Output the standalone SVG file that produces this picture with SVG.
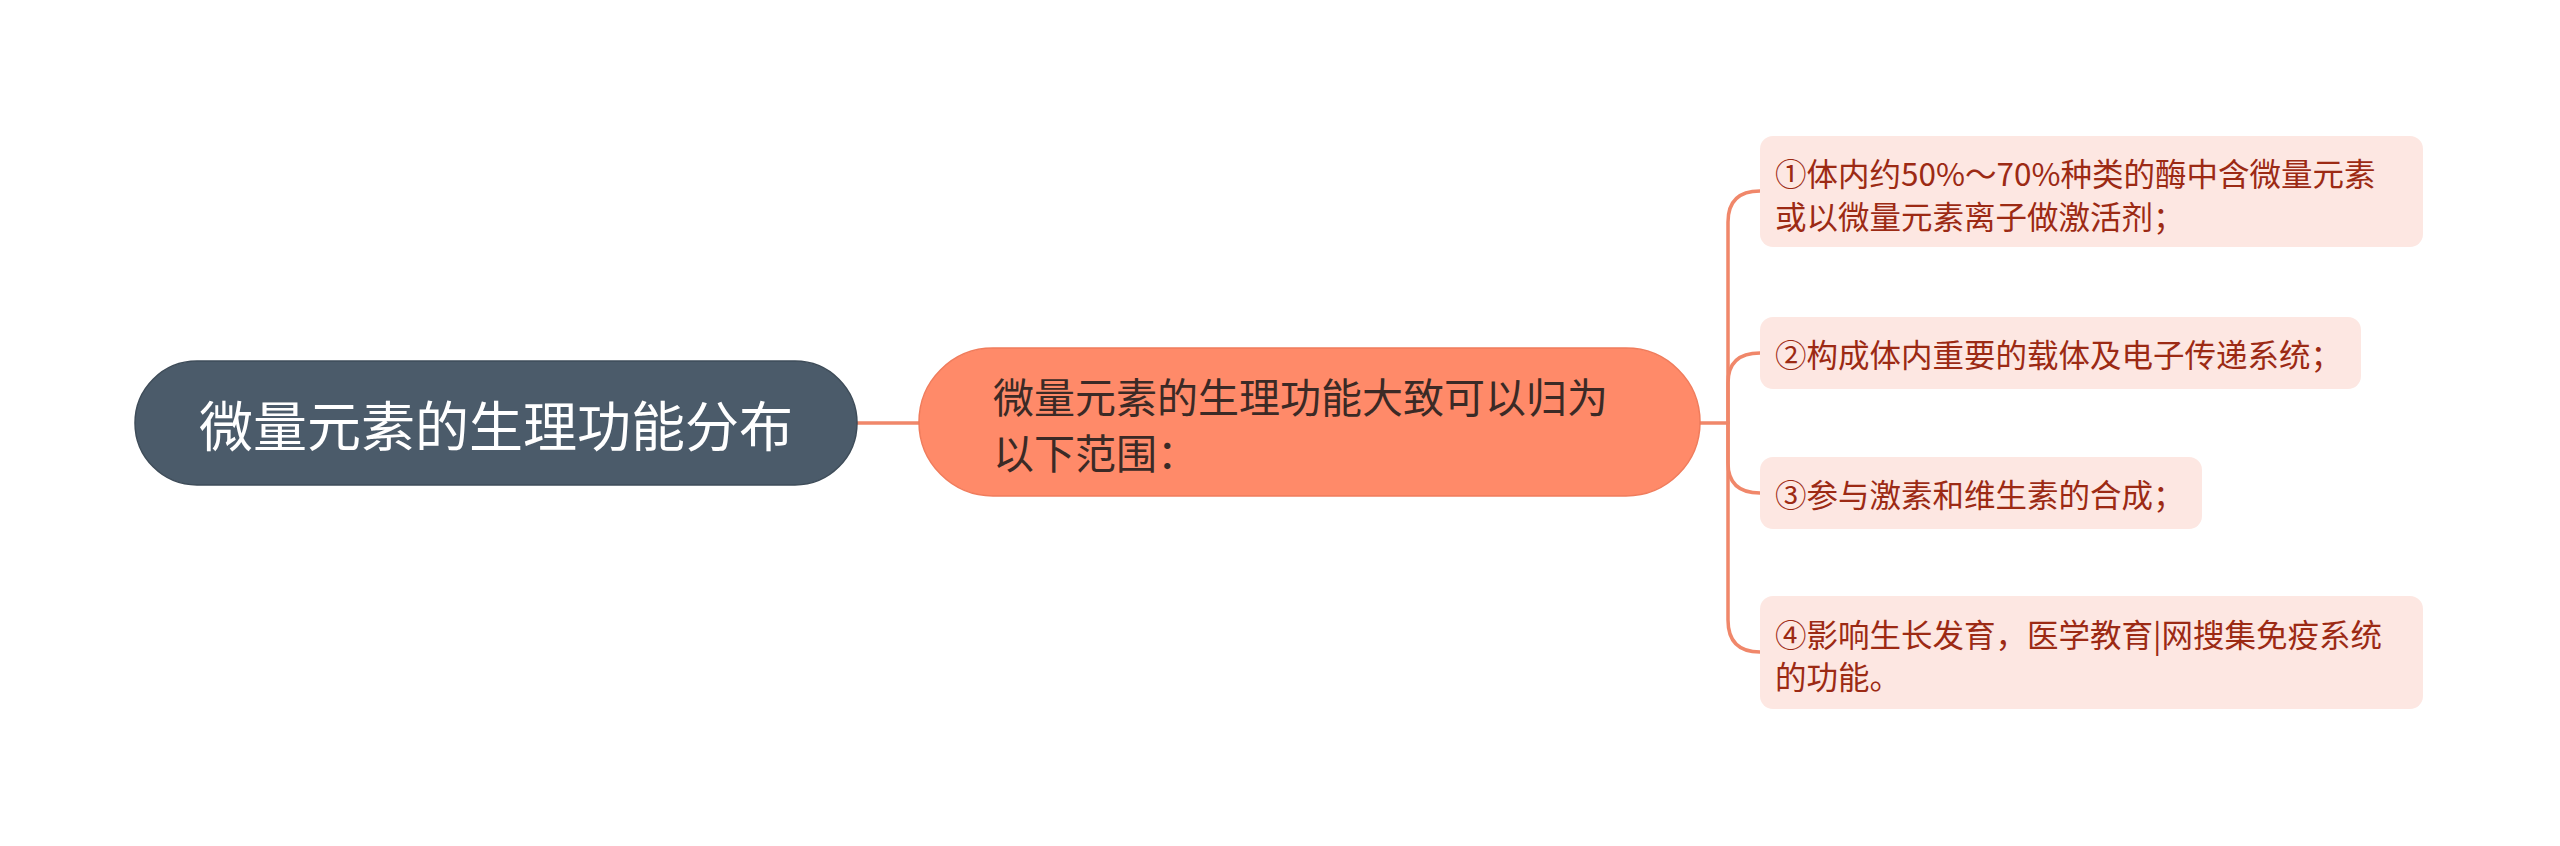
<svg xmlns="http://www.w3.org/2000/svg" width="2560" height="846" viewBox="0 0 2560 846">
<style>
text{font-family:"Noto Sans CJK SC","Noto Sans",sans-serif;dominant-baseline:central}
.root{fill:#4b5b6a;stroke:#3e4c59;stroke-width:1.5}
.main{fill:#ff8a69;stroke:#f07c5c;stroke-width:1.5}
.leaf{fill:#fde7e2}
.rt{fill:#ffffff;font-size:54px}
.mt{fill:#3b2a26;font-size:41px}
.lt{fill:#9c2a14;font-size:31.5px}
.conn{fill:none;stroke:#f0876a;stroke-width:3.5;stroke-linecap:round}
</style>
<rect width="2560" height="846" fill="#ffffff"/>
<g id="connectors">
<path class="conn" d="M857 423 H919"/>
<path class="conn" d="M1700 423 H1728"/>
<path class="conn" d="M1728 423 V222 Q1728 191 1760 191"/>
<path class="conn" d="M1728 423 V383 Q1728 353 1760 353"/>
<path class="conn" d="M1728 423 V463 Q1728 493 1760 493"/>
<path class="conn" d="M1728 423 V620 Q1728 652 1760 652"/>
</g>
<g id="root">
<rect class="root" x="135" y="361" width="722" height="124" rx="62"/>
<text class="rt" x="496" y="423" text-anchor="middle">微量元素的生理功能分布</text>
</g>
<g id="main">
<rect class="main" x="919" y="348" width="781" height="148" rx="74"/>
<text class="mt" x="993" y="395">微量元素的生理功能大致可以归为</text>
<text class="mt" x="993" y="451">以下范围：</text>
</g>
<g id="leaf1">
<rect class="leaf" x="1760" y="136" width="663" height="111" rx="13"/>
<text class="lt" x="1775" y="172">①体内约50%～70%种类的酶中含微量元素</text>
<text class="lt" x="1775" y="215">或以微量元素离子做激活剂；</text>
</g>
<g id="leaf2">
<rect class="leaf" x="1760" y="317" width="601" height="72" rx="13"/>
<text class="lt" x="1775" y="353">②构成体内重要的载体及电子传递系统；</text>
</g>
<g id="leaf3">
<rect class="leaf" x="1760" y="457" width="442" height="72" rx="13"/>
<text class="lt" x="1775" y="493">③参与激素和维生素的合成；</text>
</g>
<g id="leaf4">
<rect class="leaf" x="1760" y="596" width="663" height="113" rx="13"/>
<text class="lt" x="1775" y="633">④影响生长发育，医学教育|网搜集免疫系统</text>
<text class="lt" x="1775" y="675">的功能。</text>
</g>
</svg>
